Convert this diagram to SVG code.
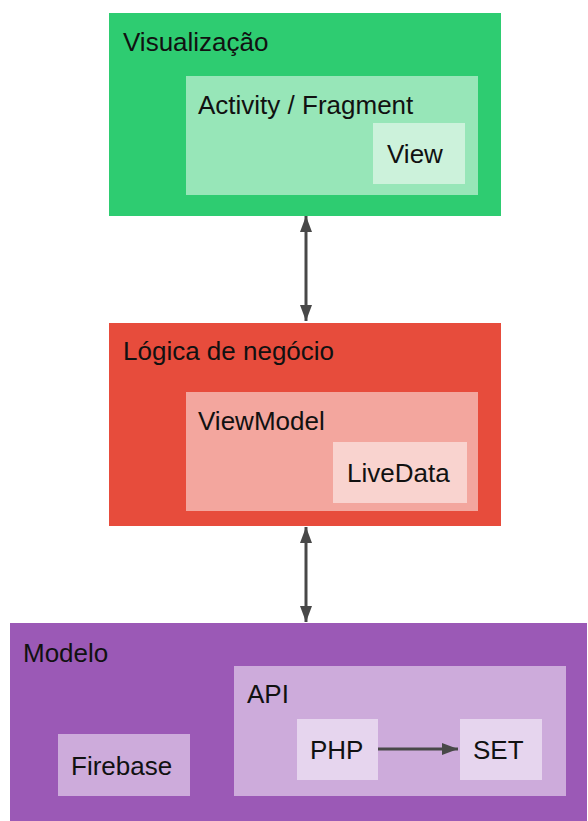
<svg xmlns="http://www.w3.org/2000/svg" width="588" height="821" viewBox="0 0 588 821">
  <style>
    text { font-family: "Liberation Sans", Arial, sans-serif; font-size: 26px; fill: #111; }
    .conn { stroke: #484848; stroke-width: 3; fill: none; }
  </style>
  <defs>
    <marker id="arrow" viewBox="0 0 16 12" refX="16" refY="6" markerWidth="16" markerHeight="12" markerUnits="userSpaceOnUse" orient="auto-start-reverse">
      <path d="M0,0 L16,6 L0,12 Z" fill="#484848"/>
    </marker>
  </defs>

  <rect width="588" height="821" fill="#ffffff"/>

  <!-- Presentation layer -->
  <g id="visualizacao">
    <rect x="109" y="13" width="392" height="203" fill="#2ECC71"/>
    <text x="123" y="51">Visualização</text>
    <g id="activity-fragment">
      <rect x="186" y="76" width="292" height="119" fill="#97E6B8"/>
      <text x="198" y="114">Activity / Fragment</text>
    </g>
    <g id="view">
      <rect x="373" y="123" width="92" height="61" fill="#CCF2DB"/>
      <text x="387" y="163">View</text>
    </g>
  </g>

  <!-- Business logic layer -->
  <g id="logica">
    <rect x="109" y="323" width="392" height="203" fill="#E74C3C"/>
    <text x="123" y="360">Lógica de negócio</text>
    <g id="viewmodel">
      <rect x="186" y="392" width="292" height="119" fill="#F3A69E"/>
      <text x="198" y="430">ViewModel</text>
    </g>
    <g id="livedata">
      <rect x="333" y="442" width="134" height="61" fill="#F9D3CF"/>
      <text x="347" y="482">LiveData</text>
    </g>
  </g>

  <!-- Data layer -->
  <g id="modelo">
    <rect x="10" y="623" width="577" height="198" fill="#9B59B6"/>
    <text x="23" y="662">Modelo</text>
    <g id="firebase">
      <rect x="58" y="734" width="132" height="62" fill="#CDABDB"/>
      <text x="71" y="775">Firebase</text>
    </g>
    <g id="api">
      <rect x="234" y="666" width="332" height="130" fill="#CDABDB"/>
      <text x="247" y="703">API</text>
    </g>
    <g id="php">
      <rect x="297" y="719" width="81" height="61" fill="#E6D5EE"/>
      <text x="310" y="759">PHP</text>
    </g>
    <g id="set">
      <rect x="460" y="719" width="82" height="61" fill="#E6D5EE"/>
      <text x="473" y="759">SET</text>
    </g>
  </g>

  <!-- Connectors -->
  <g id="connectors">
    <line class="conn" x1="306" y1="216" x2="306" y2="321" marker-start="url(#arrow)" marker-end="url(#arrow)"/>
    <line class="conn" x1="306" y1="527" x2="306" y2="622" marker-start="url(#arrow)" marker-end="url(#arrow)"/>
    <line class="conn" x1="378" y1="749" x2="458" y2="749" marker-end="url(#arrow)"/>
  </g>
</svg>
